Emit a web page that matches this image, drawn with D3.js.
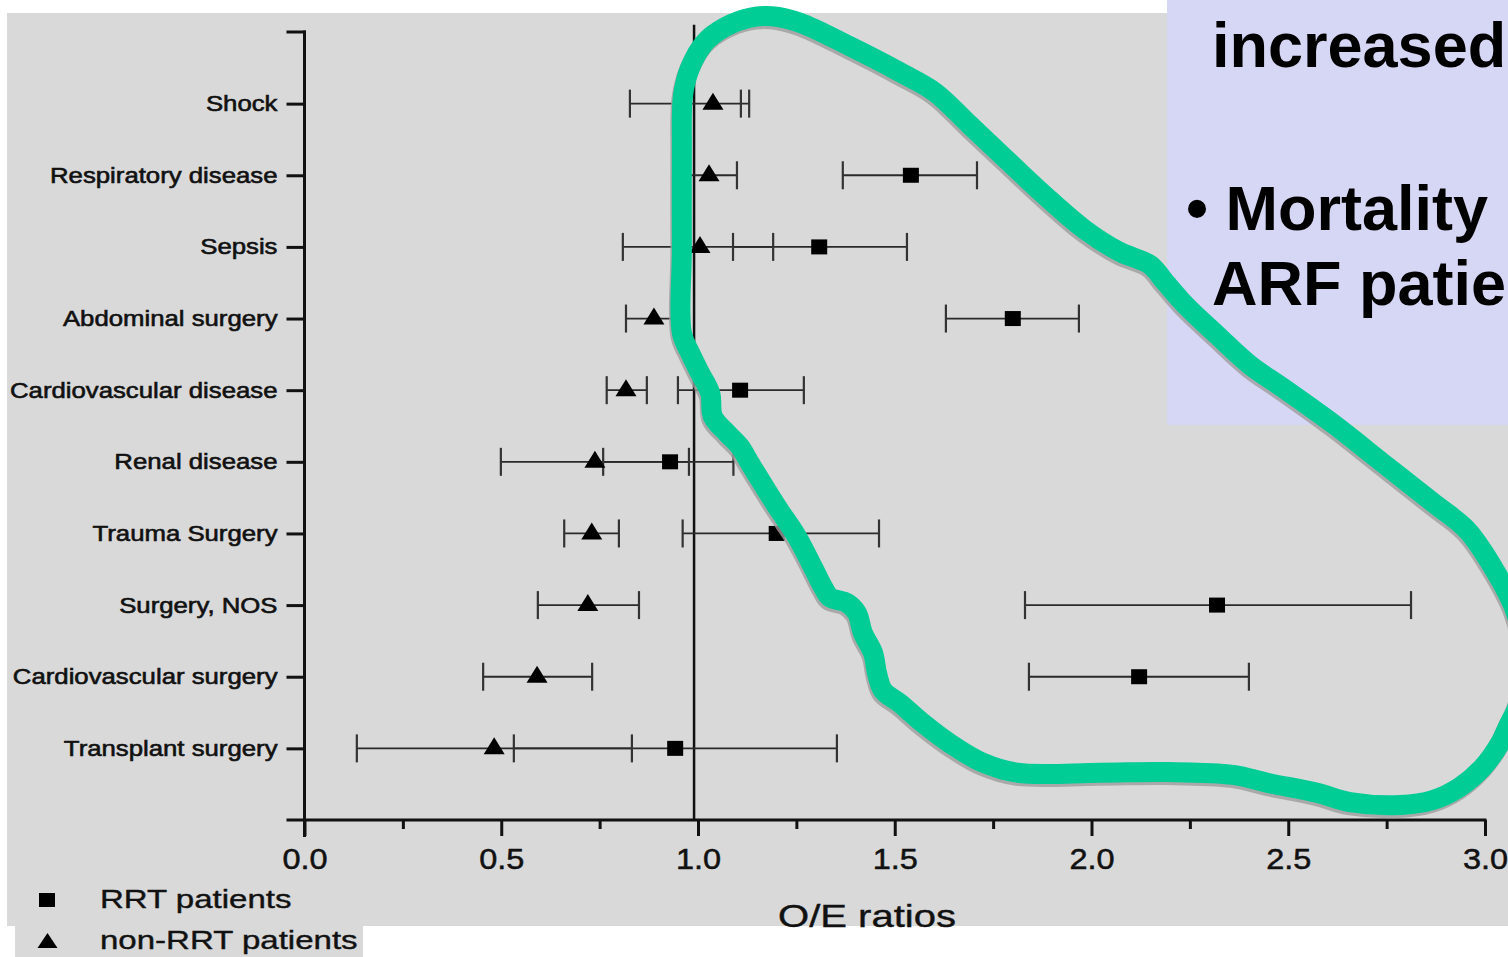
<!DOCTYPE html>
<html>
<head>
<meta charset="utf-8">
<script src="https://cdnjs.cloudflare.com/ajax/libs/d3/7.8.5/d3.min.js"></script>
<style>
body { margin: 0; background: #ffffff; }
svg { display: block; font-family: "Liberation Sans", Arial, sans-serif; }
</style>
</head>
<body>
<svg id="drawing_region"></svg>
<script>
// categories, top to bottom
const categories = ["Shock", "Respiratory disease", "Sepsis", "Abdominal surgery",
    "Cardiovascular disease", "Renal disease", "Trauma Surgery", "Surgery, NOS",
    "Cardiovascular surgery", "Transplant surgery"];

// non-RRT patients (triangles)
const nonRrtValue = [1.038, 1.028, 1.005, 0.888, 0.817, 0.738, 0.730, 0.720, 0.591, 0.482];
const nonRrtLow   = [0.827, 0.960, 0.809, 0.817, 0.768, 0.499, 0.660, 0.593, 0.454, 0.133];
const nonRrtHigh  = [1.130, 1.099, 1.191, 0.960, 0.870, 0.977, 0.799, 0.850, 0.731, 0.832];

// RRT patients (squares); no estimate shown for Shock
const rrtValue = [null, 1.541, 1.308, 1.800, 1.107, 0.929, 1.200, 2.319, 2.121, 0.942];
const rrtLow   = [null, 1.368, 1.089, 1.630, 0.949, 0.759, 0.961, 1.831, 1.841, 0.532];
const rrtHigh  = [null, 1.709, 1.531, 1.968, 1.269, 1.090, 1.460, 2.812, 2.400, 1.353];

// a lone cap next to the Shock interval
const extraCaps = [{ cat: "Shock", v: 1.109 }];

const majorTicks = [0, 0.5, 1, 1.5, 2, 2.5, 3];
const minorTicks = [0.25, 0.75, 1.25, 1.75, 2.25, 2.75];
const refValue = 0.99;

const legendLabels = ["RRT patients", "non-RRT patients"];
const xTitle = "O/E ratios";
// slide text, as much as is visible at the page edge
const slideLines = ["increased", "\u2022 Mortality", "ARF patie"];

// hand drawn highlight loop, in (O/E ratio, row index) units; row 0 = top of axis
const loopX = [0.959, 0.959, 0.959, 0.962, 0.980, 1.018, 1.069, 1.132, 1.188, 1.259, 1.386, 1.513,
    1.602, 1.691, 1.793, 1.895, 1.983, 2.072, 2.149, 2.187, 2.238, 2.319, 2.403, 2.487, 2.614,
    2.741, 2.868, 2.954, 3.020, 3.076, 3.102, 3.084, 3.058, 3.038, 2.995, 2.936, 2.868, 2.784,
    2.657, 2.573, 2.446, 2.360, 2.192, 2.022, 1.811, 1.724, 1.640, 1.572, 1.513, 1.470, 1.455,
    1.445, 1.419, 1.404, 1.379, 1.335, 1.318, 1.292, 1.252, 1.201, 1.132, 1.107, 1.074, 1.038,
    1.031, 1.005, 0.980];
const loopRow = [4.20, 3.04, 1.65, 0.88, 0.50, 0.14, -0.07, -0.20, -0.22, -0.13, 0.20, 0.56,
    0.84, 1.30, 1.83, 2.35, 2.76, 3.07, 3.25, 3.49, 3.81, 4.23, 4.65, 4.97, 5.47,
    6.02, 6.57, 6.95, 7.47, 8.07, 8.77, 9.39, 9.70, 9.93, 10.26, 10.54, 10.72, 10.79,
    10.75, 10.62, 10.48, 10.37, 10.33, 10.34, 10.34, 10.20, 9.93, 9.65, 9.37, 9.19, 8.95,
    8.67, 8.39, 8.11, 7.97, 7.89, 7.75, 7.47, 7.05, 6.63, 6.02, 5.79, 5.60, 5.37,
    5.04, 4.76, 4.48];

// stretch text horizontally like the scanned figure
function stretch(sel, k) {
    sel.each(function() {
        const w = this.getComputedTextLength();
        d3.select(this).attr('textLength', w * k).attr('lengthAdjust', 'spacingAndGlyphs');
    });
}

class ForestPlot {

    constructor(config) {
        this.config = config;
        this.init();
    }

    init() {
        let self = this;
        const c = self.config;

        self.svg = d3.select(c.parent)
            .attr('width', c.width)
            .attr('height', c.height);

        self.xscale = d3.scaleLinear()
            .domain([0, 3])
            .range([c.left, c.right]);

        self.yscale = d3.scalePoint()
            .domain(categories)
            .range([c.top, c.bottom])
            .padding(1);

        self.rowscale = d3.scaleLinear()
            .domain([0, categories.length + 1])
            .range([c.top, c.bottom]);

        // scanned figure background
        self.svg.append('rect')
            .attr('x', 7).attr('y', 13)
            .attr('width', c.width - 7).attr('height', 913)
            .attr('fill', '#d9d9d9');
        self.svg.append('rect')
            .attr('x', 15).attr('y', 926)
            .attr('width', 348).attr('height', c.height - 926)
            .attr('fill', '#d9d9d9');

        self.chart = self.svg.append('g');
        self.overlay = self.svg.append('g');
    }

    update() {
        let self = this;
        self.nonRrt = categories.map((cat, i) => ({ cat: cat, v: nonRrtValue[i], lo: nonRrtLow[i], hi: nonRrtHigh[i] }));
        self.rrt = categories.map((cat, i) => ({ cat: cat, v: rrtValue[i], lo: rrtLow[i], hi: rrtHigh[i] }))
            .filter(d => d.v !== null);
        self.render();
    }

    render() {
        let self = this;
        const c = self.config;
        const x = self.xscale, y = self.yscale;

        // reference line at O/E = 1
        self.chart.append('line')
            .attr('x1', x(refValue)).attr('x2', x(refValue))
            .attr('y1', self.rowscale(-0.1)).attr('y2', c.bottom)
            .attr('stroke', '#111').attr('stroke-width', 2.5);

        // error bars
        const bars = self.nonRrt.concat(self.rrt);
        self.chart.selectAll('.ci')
            .data(bars)
            .join('line')
            .attr('class', 'ci')
            .attr('x1', d => x(d.lo)).attr('x2', d => x(d.hi))
            .attr('y1', d => y(d.cat)).attr('y2', d => y(d.cat))
            .attr('stroke', '#2a2a2a').attr('stroke-width', 1.8);

        const caps = [];
        bars.forEach(d => { caps.push({ cat: d.cat, v: d.lo }); caps.push({ cat: d.cat, v: d.hi }); });
        extraCaps.forEach(d => caps.push(d));
        self.chart.selectAll('.cap')
            .data(caps)
            .join('line')
            .attr('class', 'cap')
            .attr('x1', d => x(d.v)).attr('x2', d => x(d.v))
            .attr('y1', d => y(d.cat) - 14).attr('y2', d => y(d.cat) + 14)
            .attr('stroke', '#333').attr('stroke-width', 2.2);

        // markers
        self.chart.selectAll('.sq')
            .data(self.rrt)
            .join('rect')
            .attr('class', 'sq')
            .attr('x', d => x(d.v) - 8).attr('y', d => y(d.cat) - 7.5)
            .attr('width', 16).attr('height', 15)
            .attr('fill', '#000');

        self.chart.selectAll('.tri')
            .data(self.nonRrt)
            .join('path')
            .attr('class', 'tri')
            .attr('transform', d => `translate(${x(d.v)}, ${y(d.cat)})`)
            .attr('d', 'M0,-11 L10.5,6 L-10.5,6 Z')
            .attr('fill', '#000');

        // x axis
        const xaxis_group = self.chart.append('g')
            .attr('transform', `translate(0, ${c.bottom})`);
        xaxis_group.call(d3.axisBottom(x).tickValues(majorTicks).tickSize(16).tickPadding(12)
            .tickFormat(d3.format('.1f')));
        xaxis_group.append('g')
            .call(d3.axisBottom(x).tickValues(minorTicks).tickSize(9).tickFormat(''));
        xaxis_group.selectAll('.domain').remove();
        xaxis_group.selectAll('line').attr('stroke', '#111').attr('stroke-width', 3);
        xaxis_group.append('line')
            .attr('x1', c.left - 18).attr('x2', c.right + 1.5)
            .attr('stroke', '#111').attr('stroke-width', 3);
        const xt = xaxis_group.selectAll('text')
            .attr('font-size', 29)
            .attr('fill', '#111')
            .attr('stroke', '#111').attr('stroke-width', 0.5)
            .attr('font-family', '"Liberation Sans", Arial, sans-serif');
        stretch(xt, 1.12);

        // y axis
        const yaxis_group = self.chart.append('g')
            .attr('transform', `translate(${c.left}, 0)`);
        yaxis_group.call(d3.axisLeft(y).tickSize(18).tickPadding(9));
        yaxis_group.selectAll('.domain').remove();
        yaxis_group.selectAll('line').attr('stroke', '#111').attr('stroke-width', 3);
        yaxis_group.append('line')
            .attr('y1', c.top - 1.5).attr('y2', c.bottom + 17)
            .attr('stroke', '#111').attr('stroke-width', 3);
        yaxis_group.append('line')
            .attr('x1', -18).attr('x2', 1.5)
            .attr('y1', c.top).attr('y2', c.top)
            .attr('stroke', '#111').attr('stroke-width', 3);
        const yt = yaxis_group.selectAll('text')
            .attr('font-size', 22)
            .attr('fill', '#111')
            .attr('stroke', '#111').attr('stroke-width', 0.6)
            .attr('font-family', '"Liberation Sans", Arial, sans-serif');
        stretch(yt, 1.17);

        // axis title
        const title = self.chart.append('text')
            .attr('x', 867).attr('y', 927)
            .attr('text-anchor', 'middle')
            .attr('font-size', 32)
            .attr('fill', '#111')
            .attr('stroke', '#111').attr('stroke-width', 0.4)
            .text(xTitle);
        stretch(title, 1.25);

        // legend
        const legend = self.chart.append('g');
        legend.append('rect')
            .attr('x', 39).attr('y', 893).attr('width', 16).attr('height', 14)
            .attr('fill', '#000');
        legend.append('path')
            .attr('transform', 'translate(47.5, 941)')
            .attr('d', 'M0,-8 L10,7 L-10,7 Z')
            .attr('fill', '#000');
        const lt = legend.selectAll('.legend-label')
            .data(legendLabels)
            .join('text')
            .attr('class', 'legend-label')
            .attr('x', 100)
            .attr('y', (d, i) => 908 + i * 41)
            .attr('font-size', 26)
            .attr('fill', '#111')
            .attr('stroke', '#111').attr('stroke-width', 0.4)
            .text(d => d);
        stretch(lt, 1.27);

        // slide text box
        const box = self.overlay.append('g');
        box.append('rect')
            .attr('x', 1167).attr('y', 0)
            .attr('width', c.width - 1167).attr('height', 425)
            .attr('fill', '#d6d6f5');
        box.selectAll('.slide-line')
            .data(slideLines)
            .join('text')
            .attr('class', 'slide-line')
            .attr('x', (d, i) => i === 1 ? 1186 : 1212)
            .attr('y', (d, i) => [67, 230, 305][i])
            .attr('font-size', 63)
            .attr('font-weight', 'bold')
            .attr('fill', '#000')
            .text(d => d);

        // highlight loop
        const pts = loopX.map((v, i) => [x(v), self.rowscale(loopRow[i])]);
        const loop = d3.line().curve(d3.curveCatmullRomClosed.alpha(0.5));
        self.overlay.append('path')
            .attr('d', loop(pts))
            .attr('transform', 'translate(-1.5, 3)')
            .attr('fill', 'none')
            .attr('stroke', '#9c9c9c')
            .attr('stroke-width', 20)
            .attr('stroke-linejoin', 'round')
            .attr('opacity', 0.8);
        self.overlay.append('path')
            .attr('d', loop(pts))
            .attr('fill', 'none')
            .attr('stroke', '#00cc96')
            .attr('stroke-width', 20)
            .attr('stroke-linejoin', 'round');
    }
}

var config = {
    parent: '#drawing_region',
    width: 1508,
    height: 957,
    left: 304.5,
    right: 1485,
    top: 32,
    bottom: 820
};

const forest_plot = new ForestPlot(config);
forest_plot.update();
</script>
</body>
</html>
